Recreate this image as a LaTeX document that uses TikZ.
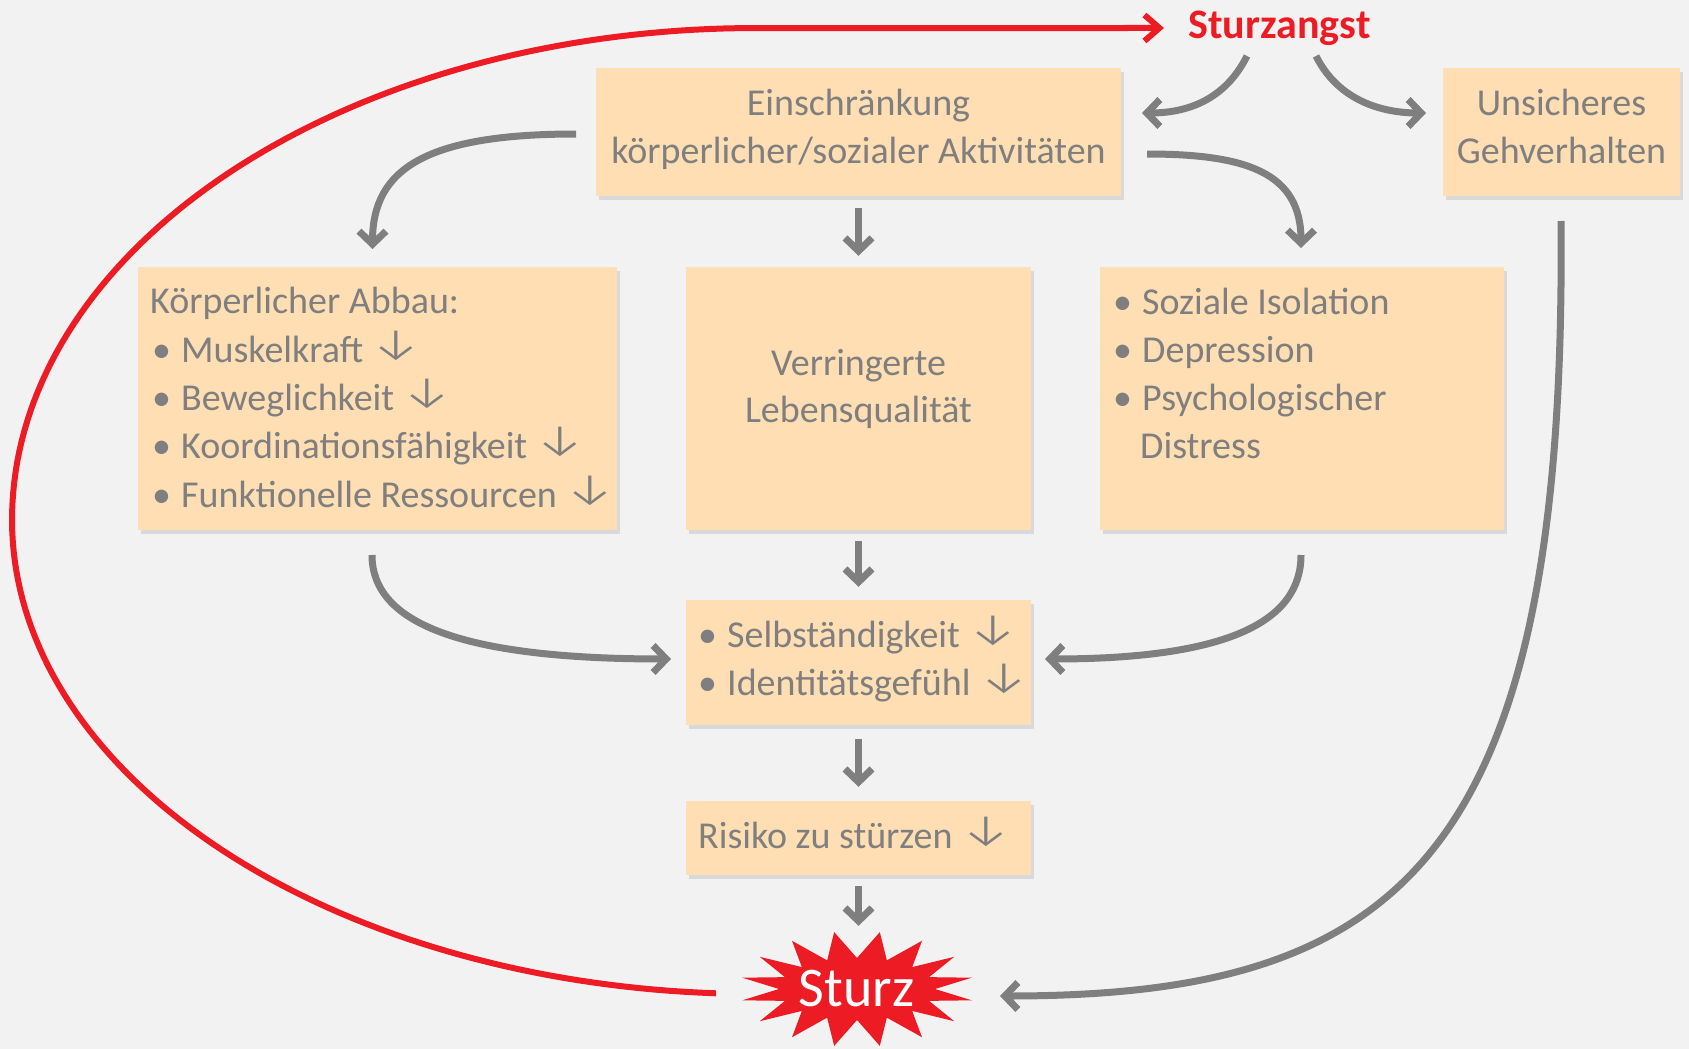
\documentclass[tikz,border=0pt]{standalone}
\usepackage{fontspec}
\usepackage{graphicx}
\setmainfont{Carlito}
\newfontfamily\arrowfont{Fira Sans Light}
\usetikzlibrary{arrows.meta,shadows,calc}
\definecolor{bgc}{HTML}{F2F2F2}
\definecolor{boxc}{RGB}{255,222,179}
\definecolor{txtc}{HTML}{7F7F7F}
\definecolor{redc}{HTML}{ED1C24}
\newcommand{\da}{\raisebox{3pt}{\scalebox{1.45}[1.2]{\arrowfont ↓}}}
\newcommand{\bul}{\makebox[29pt][l]{•}}
\begin{document}
\begin{tikzpicture}[x=1pt,y=-1pt,
  box/.style={fill=boxc, draw=none, inner sep=0pt,
    drop shadow={shadow xshift=3pt,shadow yshift=-4pt,fill=black,opacity=0.10}},
  txt/.style={text=txtc, font=\fontsize{38}{46}\selectfont, inner sep=0pt, anchor=base west},
  ctxt/.style={txt, anchor=base},
  conn/.style={draw=txtc, line width=7pt, -{Straight Barb[length=13pt,width=27pt]}},
  redconn/.style={draw=redc, line width=6pt, -{Straight Barb[length=15pt,width=26pt]}},
]
\fill[bgc] (0,0) rectangle (1689,1049);
\useasboundingbox (0,0) rectangle (1689,1049);

% boxes
\node[box, minimum width=525pt, minimum height=128pt] (ein) at (858.5,132) {};
\node[box, minimum width=237pt, minimum height=128pt] (uns) at (1561.5,132) {};
\node[box, minimum width=479pt, minimum height=263pt] (koe) at (377.5,398.5) {};
\node[box, minimum width=345pt, minimum height=263pt] (ver) at (858.5,398.5) {};
\node[box, minimum width=404pt, minimum height=263pt] (soz) at (1302,398.5) {};
\node[box, minimum width=345pt, minimum height=125pt] (sel) at (858.5,662.5) {};
\node[box, minimum width=345pt, minimum height=74pt] (ris) at (858.5,838) {};

% texts
\node[ctxt] (ein1) at (858.5,115) {Einschränkung};
\node[ctxt] (ein2) at (858.5,163) {körperlicher/sozialer Aktivitäten};
\node[ctxt] (uns1) at (1561.5,115) {Unsicheres};
\node[ctxt] (uns2) at (1561.5,163) {Gehverhalten};
\node[txt] (koe0) at (150,313) {Körperlicher Abbau:};
\node[txt] (koe1) at (152,362) {\bul Muskelkraft \da};
\node[txt] (koe2) at (152,410) {\bul Beweglichkeit \da};
\node[txt] (koe3) at (152,458) {\bul Koordinationsfähigkeit \da};
\node[txt] (koe4) at (152,507) {\bul Funktionelle Ressourcen \da};
\node[ctxt] (ver1) at (858.5,375) {Verringerte};
\node[ctxt] (ver2) at (858.5,422.5) {Lebensqualität};
\node[txt] (soz1) at (1113,314) {\bul Soziale Isolation};
\node[txt] (soz2) at (1113,362) {\bul Depression};
\node[txt] (soz3) at (1113,410) {\bul Psychologischer};
\node[txt] (soz4) at (1140,458) {Distress};
\node[txt] (sel1) at (698,647) {\bul Selbständigkeit \da};
\node[txt] (sel2) at (698,695) {\bul Identitätsgefühl \da};
\node[txt] (ris1) at (698,848) {Risiko zu stürzen \da};

% Sturzangst
\node[anchor=base, inner sep=0pt, text=redc, font=\fontsize{42}{50}\selectfont\bfseries] (sa) at (1279.5,39) {Sturzangst};

% Sturz star
\fill[redc] plot[samples at={0,...,31}, variable=\i]
  ({857+ifthenelse(mod(\i,2)==1,117,78)*cos(\i*11.25)},
   {989+ifthenelse(mod(\i,2)==1,58,31)*sin(\i*11.25)}) -- cycle;
\node[inner sep=0pt, minimum width=234pt, minimum height=116pt] (sturz) at (857,989) {};
\node[anchor=base, inner sep=0pt, text=white, font=\fontsize{56}{60}\selectfont] (sturzt) at (856.5,1006) {Sturz};

% connector end points
\coordinate (a1) at (576,134);
\coordinate (a2) at (372.5,249);
\coordinate (a3) at (1147,154);
\coordinate (a4) at (1301,248);
\coordinate (b1) at (1247,56);
\coordinate (b2) at (1142,113);
\coordinate (b3) at (1316,56);
\coordinate (b4) at (1426,113);
\coordinate (d1) at (372,555);
\coordinate (d2) at (671,659);
\coordinate (d3) at (1301,555);
\coordinate (d4) at (1045,659);
\coordinate (e1) at (1561,221);
\coordinate (e2) at (1000,996);
\coordinate (r1) at (715.7,993.3);
\coordinate (r2) at (1164,28);

% connectors
\draw[conn] (a1) .. controls +(-150,0) and +(0,-80) .. (a2);
\draw[conn] (a3) .. controls +(100,0) and +(0,-75) .. (a4);
\draw[conn] (b1) .. controls +(-22,44) and +(45,0) .. (b2);
\draw[conn] (b3) .. controls +(22,44) and +(-45,0) .. (b4);
\draw[conn, shorten <=12pt, shorten >=11pt] (ein) -- (ver);
\draw[conn, shorten <=11pt, shorten >=13pt] (ver) -- (sel);
\draw[conn, shorten <=14pt, shorten >=14pt] (sel) -- (ris);
\draw[conn, shorten <=11pt, shorten >=5pt] (ris.south) -- (ris.south |- sturz.north);
\draw[conn] (d1) .. controls +(0,67) and +(-213,0) .. (d2);
\draw[conn] (d3) .. controls +(0,67) and +(182,0) .. (d4);
\draw[conn] (e1) .. controls +(6,639) and +(400,0) .. (e2);
\draw[redconn] (r1) -- plot[domain=93.1:270, samples=150, variable=\t]
  ({756+744*cos(\t)}, {520+ifthenelse(\t<180,474,492)*sin(\t)}) -- (r2);
\end{tikzpicture}
\end{document}
